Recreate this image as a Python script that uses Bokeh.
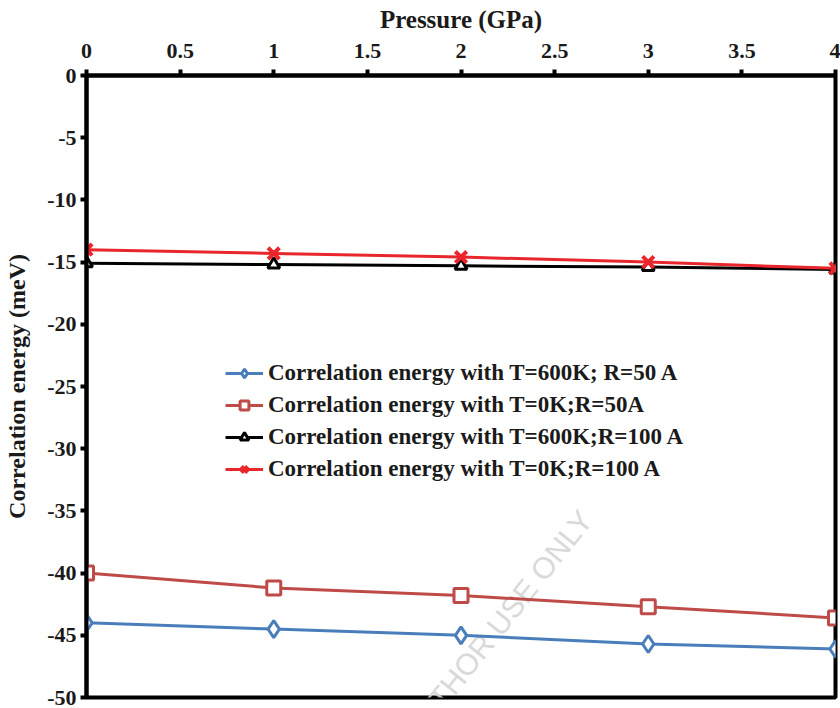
from bokeh.plotting import figure
from bokeh.models import Range1d, LinearAxis, FixedTicker, Legend, LegendItem
from bokeh.core.properties import value
from bokeh.embed import file_html
from bokeh.resources import INLINE

pressure = [0, 1, 2, 3, 4]
e_600k_r50 = [-44.0, -44.5, -45.0, -45.7, -46.1]
e_0k_r50 = [-40.0, -41.2, -41.8, -42.7, -43.6]
e_600k_r100 = [-15.1, -15.2, -15.3, -15.4, -15.6]
e_0k_r100 = [-14.0, -14.3, -14.6, -15.0, -15.5]

labels = [
    "Correlation energy with T=600K; R=50 A",
    "Correlation energy with T=0K;R=50A",
    "Correlation energy with T=600K;R=100 A",
    "Correlation energy with T=0K;R=100 A",
]
x_ticks = [0, 0.5, 1, 1.5, 2, 2.5, 3, 3.5, 4]
x_tick_labels = ["0", "0.5", "1", "1.5", "2", "2.5", "3", "3.5", "4"]
y_ticks = [0, -5, -10, -15, -20, -25, -30, -35, -40, -45, -50]
y_tick_labels = ["0", "-5", "-10", "-15", "-20", "-25", "-30", "-35", "-40", "-45", "-50"]

FONT = "Liberation Serif"

p = figure(width=840, height=708, output_backend="svg", toolbar_location=None,
           x_range=Range1d(0, 4), y_range=Range1d(-50, 0),
           x_axis_location=None, y_axis_location=None,
           min_border_left=86, min_border_right=5, min_border_top=75, min_border_bottom=11)
p.grid.visible = False
p.outline_line_color = "black"
p.outline_line_width = 4
p.background_fill_color = "white"
p.border_fill_color = "white"

xax = LinearAxis(axis_label="Pressure (GPa)", ticker=FixedTicker(ticks=x_ticks),
                 major_label_overrides=dict(zip(x_ticks, x_tick_labels)))
yax = LinearAxis(axis_label="Correlation energy (meV)", ticker=FixedTicker(ticks=y_ticks),
                 major_label_overrides=dict(zip(y_ticks, y_tick_labels)))
for ax in (xax, yax):
    ax.axis_line_width = 4
    ax.axis_line_color = "black"
    ax.major_tick_line_width = 4
    ax.major_tick_line_color = "black"
    ax.major_tick_in = 0
    ax.major_tick_out = 6
    ax.minor_tick_line_color = None
    ax.major_label_text_font = FONT
    ax.major_label_text_font_style = "bold"
    ax.major_label_text_font_size = "22px"
    ax.major_label_text_color = "#1a1a1a"
    ax.axis_label_text_font = FONT
    ax.axis_label_text_font_style = "bold"
    ax.axis_label_text_color = "#1a1a1a"
xax.axis_label_text_font_size = "25px"
yax.axis_label_text_font_size = "24px"
xax.major_label_standoff = 12
xax.axis_label_standoff = 8
yax.major_label_standoff = 4
yax.axis_label_standoff = 14
p.add_layout(xax, "above")
p.add_layout(yax, "left")

# watermark
p.text(x=[1.49], y=[-57.6], text=["FOR AUTHOR USE ONLY"], angle=0.9,
       text_font=value("Liberation Sans"), text_font_size="30px",
       text_color="#d4d4d4", text_alpha=0.9, text_baseline="middle")

r1 = p.line(pressure, e_600k_r50, line_color="#4a7ebb", line_width=3)
m1 = p.scatter(pressure, e_600k_r50, marker="diamond", size=17, fill_color="white",
               line_color="#4a7ebb", line_width=3)
r2 = p.line(pressure, e_0k_r50, line_color="#be4b48", line_width=3)
m2 = p.scatter(pressure, e_0k_r50, marker="square", size=14, fill_color="white",
               line_color="#be4b48", line_width=3)
r3 = p.line(pressure, e_600k_r100, line_color="black", line_width=3)
m3 = p.scatter(pressure, e_600k_r100, marker="triangle", size=12, fill_color="white",
               line_color="black", line_width=3)
r4 = p.line(pressure, e_0k_r100, line_color="#e8262b", line_width=3)
m4 = p.scatter(pressure, e_0k_r100, marker="x", size=16,
               line_color="#e8262b", line_width=4)

legend = Legend(items=[LegendItem(label=labels[0], renderers=[r1, m1]),
                       LegendItem(label=labels[1], renderers=[r2, m2]),
                       LegendItem(label=labels[2], renderers=[r3, m3]),
                       LegendItem(label=labels[3], renderers=[r4, m4])],
                location=(139, 215), border_line_color=None, background_fill_alpha=0,
                padding=0, margin=0, spacing=6, glyph_width=38, glyph_height=22,
                label_height=22, label_standoff=5,
                label_text_font=FONT, label_text_font_style="bold",
                label_text_font_size="23px", label_text_color="#1a1a1a")
p.add_layout(legend, "center")

open("out.html", "w").write(file_html(p, INLINE))
